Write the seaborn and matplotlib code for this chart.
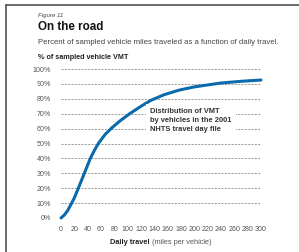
import matplotlib
matplotlib.use("Agg")
import matplotlib.pyplot as plt
import seaborn as sns
import pandas as pd
from matplotlib.lines import Line2D

# DATA
miles = [0, 5, 10, 16, 20, 26, 35, 44, 50, 56, 66, 75, 88, 103, 120, 135,
         155, 177, 200, 240, 272, 300]
vmt_pct = [0, 2, 5, 10, 13.5, 20, 30, 40, 45.3, 50, 56, 60, 65, 70, 75, 79,
           82.8, 85.8, 88, 90.6, 91.8, 92.6]
y_ticks = list(range(0, 101, 10))
x_ticks = list(range(0, 301, 20))

df = pd.DataFrame({"miles": miles, "pct": vmt_pct})

sns.set_style("white")
plt.rcParams["font.family"] = ["Liberation Sans", "DejaVu Sans"]

W, H = 299, 252
fig = plt.figure(figsize=(W / 100, H / 100), dpi=100)
fig.patch.set_facecolor("white")

# axes area placed to match the reference pixel box
ax = fig.add_axes([61 / W, 1 - 218 / H, 200 / W, 149 / H])
ax.set_facecolor("white")

# dashed grid lines
for v in y_ticks:
    ax.axhline(v, color="#8a8a8a", lw=0.6, ls=(0, (2.5, 1.5)), zorder=1)

sns.lineplot(data=df, x="miles", y="pct", ax=ax, color="#0b6aab",
             lw=2.2, zorder=3, clip_on=False, solid_capstyle="round",
             solid_joinstyle="round")

ax.set_xlim(0, 300)
ax.set_ylim(0, 100)
ax.set_xticks(x_ticks)
ax.set_yticks(y_ticks)
ax.set_yticklabels([f"{v}%" for v in y_ticks])
ax.tick_params(axis="both", length=0, labelsize=5.1, labelcolor="#555555")
ax.tick_params(axis="y", pad=7)
ax.tick_params(axis="x", pad=6)
ax.set_xlabel("")
ax.set_ylabel("")
for s in ax.spines.values():
    s.set_visible(False)

# annotation with white box breaking the grid lines
ax.text(134, 65.3, "Distribution of VMT\nby vehicles in the 2001\nNHTS travel day file",
        fontsize=5.4, fontweight="bold", color="#333333", va="center",
        ha="left", linespacing=1.35, zorder=4,
        bbox=dict(facecolor="white", edgecolor="none", pad=3))

# titles
fig.text(38 / W, 1 - 15.7 / H, "Figure 11", fontsize=4.4, style="italic",
         color="#444444", va="center")
fig.text(38 / W, 1 - 27 / H, "On the road", fontsize=8.4, fontweight="bold",
         color="#111111", va="center")
fig.text(38 / W, 1 - 42 / H,
         "Percent of sampled vehicle miles traveled as a function of daily travel.",
         fontsize=5.6, color="#444444", va="center")
fig.text(38 / W, 1 - 57.3 / H, "% of sampled vehicle VMT", fontsize=5.2,
         fontweight="bold", color="#222222", va="center")

# x axis label: bold part + normal part
fig.text(150 / W, 1 - 242.3 / H, "Daily travel", fontsize=5.3, fontweight="bold",
         color="#222222", ha="right", va="center")
fig.text(152.5 / W, 1 - 242.3 / H, "(miles per vehicle)", fontsize=5.3,
         color="#555555", ha="left", va="center")

# frame lines on the left and top
fig.add_artist(Line2D([6 / W, 6 / W], [0, 1 - 5 / H], color="#444444", lw=1.1))
fig.add_artist(Line2D([6 / W, 1], [1 - 5 / H, 1 - 5 / H], color="#444444", lw=1.1))

fig.savefig("out.png", dpi=100)
